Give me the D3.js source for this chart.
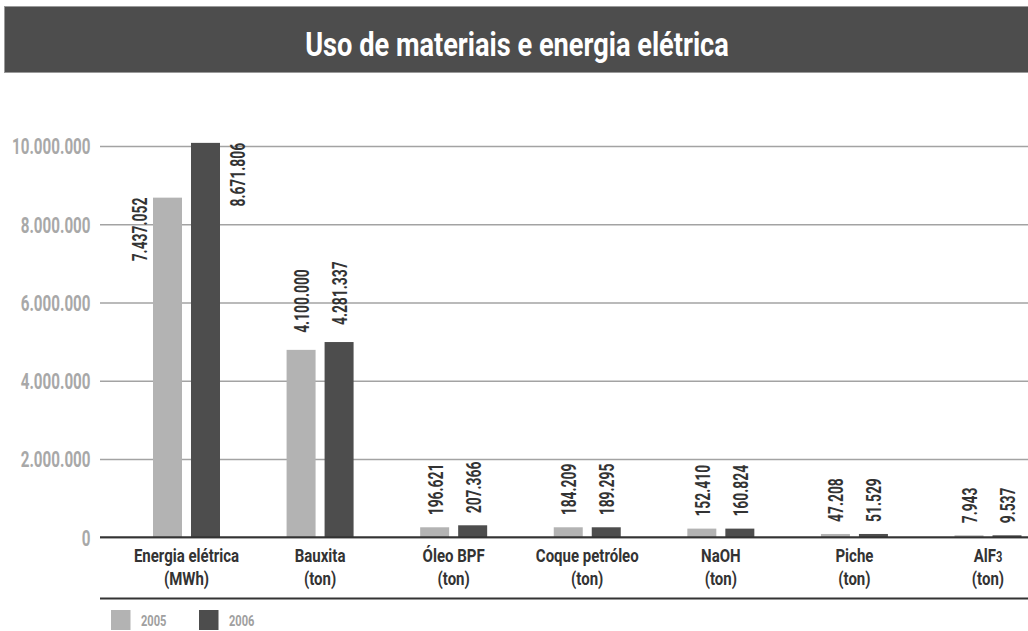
<!DOCTYPE html>
<html><head><meta charset="utf-8">
<script src="https://cdn.jsdelivr.net/npm/d3@7"></script>
<style>body{margin:0;background:#fff;} svg{display:block}</style>
</head><body>
<svg id="c" width="1028" height="631"></svg>
<script>
const title = "Uso de materiais e energia elétrica";
const categories = ["Energia elétrica","Bauxita","Óleo BPF","Coque petróleo","NaOH","Piche","AlF3"];
const units = ["(MWh)","(ton)","(ton)","(ton)","(ton)","(ton)","(ton)"];
const years = ["2005","2006"];
const values2005 = [8680000, 4790000, 256000, 256000, 222000, 85000, 51000];
const values2006 = [10080000, 4990000, 307000, 256000, 222000, 85000, 51000];
const labels2005 = ["7.437.052","4.100.000","196.621","184.209","152.410","47.208","7.943"];
const labels2006 = ["8.671.806","4.281.337","207.366","189.295","160.824","51.529","9.537"];
const yTicks = [0,2000000,4000000,6000000,8000000,10000000];
const yTickLabels = ["0","2.000.000","4.000.000","6.000.000","8.000.000","10.000.000"];
const colors = {"2005":"#b3b3b3","2006":"#4d4d4d"};

const FONT = "Roboto, 'Liberation Sans', sans-serif";
const svg = d3.select("#c");
const W = 1028;
const left = 100;

// Title bar
svg.append("rect").attr("x",4.5).attr("y",6.5).attr("width",W-4).attr("height",66)
  .attr("fill","#4d4d4d").attr("stroke","#9a9a9a").attr("stroke-width",1);
svg.append("g").attr("transform",`translate(517,56) scale(0.8,1)`)
  .append("text").attr("text-anchor","middle").attr("font-family",FONT)
  .attr("font-weight","bold").attr("font-size",34).attr("fill","#fff").text(title);

const y = d3.scaleLinear().domain([0,10000000]).range([537.3,146]);
const x0 = d3.scaleBand().domain(categories).range([119.7,1054.8]).padding(0);
const bw = x0.bandwidth();
const x1 = d3.scaleBand().domain(years).range([bw/2-33.5, bw/2+33.5]).paddingInner(0.237);

// grid + y axis
const KT = 0.69;
const yAxis = d3.axisLeft(y).tickValues(yTicks).tickFormat((d,i)=>yTickLabels[i])
  .tickSize(-(W-left)).tickPadding(0);
const ga = svg.append("g").attr("transform",`translate(${left},0)`).call(yAxis);
ga.select(".domain").remove();
ga.selectAll(".tick line").attr("stroke","#a3a3a3").attr("stroke-width",1.4);
ga.selectAll(".tick text")
  .attr("font-family",FONT).attr("font-weight","bold").attr("font-size",22)
  .attr("fill","#a8a8a8").attr("text-anchor","end")
  .attr("x",-9.5/KT).attr("dy","0.36em")
  .attr("transform",`scale(${KT},1)`);

// bars
const rows = categories.map((c,i)=>({cat:c, vals:[
  {year:"2005", v:values2005[i], label:labels2005[i]},
  {year:"2006", v:values2006[i], label:labels2006[i]}]}));

const gg = svg.append("g").selectAll("g").data(rows).join("g")
  .attr("transform",d=>`translate(${x0(d.cat)},0)`);
gg.selectAll("rect").data(d=>d.vals).join("rect")
  .attr("x",d=>x1(d.year)).attr("width",x1.bandwidth())
  .attr("y",d=>y(d.v)).attr("height",d=>y(0)-y(d.v))
  .attr("fill",d=>colors[d.year]);

// value labels (rotated)
const KV = 0.66;
gg.each(function(row){
  const g = d3.select(this);
  row.vals.forEach(d=>{
    const bx = x1(d.year), top = y(d.v);
    let tx, ty, anchor;
    if (d.v > 8000000) {
      anchor = "end"; ty = top;
      tx = d.year==="2005" ? bx - 5.5 : bx + x1.bandwidth() + 25.5;
    } else {
      anchor = "start"; ty = top - (d.v > 1000000 ? 17 : 12);
      tx = bx + x1.bandwidth()/2 + 8;
    }
    g.append("g").attr("transform",`translate(${tx},${ty}) rotate(-90) scale(${KV},1)`)
      .append("text").attr("text-anchor",anchor).attr("font-family",FONT)
      .attr("font-weight","bold").attr("font-size",21).attr("fill","#333")
      .text(d.label);
  });
});

// baseline
svg.append("line").attr("x1",left).attr("x2",W).attr("y1",y(0)).attr("y2",y(0))
  .attr("stroke","#333").attr("stroke-width",2);

// category labels
const KC = 0.79;
categories.forEach((c,i)=>{
  const cx = x0(c)+bw/2;
  const g = svg.append("g").attr("transform",`translate(${cx},562) scale(${KC},1)`);
  const t = g.append("text").attr("text-anchor","middle").attr("font-family",FONT)
    .attr("font-weight","bold").attr("font-size",19).attr("fill","#333");
  const m = c.match(/^(AlF)(3)$/);
  if (m) { t.append("tspan").text(m[1]); t.append("tspan").attr("font-size",14).text(m[2]); }
  else t.text(c);
  g.append("text").attr("y",23).attr("text-anchor","middle").attr("font-family",FONT)
    .attr("font-weight","bold").attr("font-size",19).attr("fill","#333").text(units[i]);
});

// bottom rule
svg.append("line").attr("x1",left).attr("x2",W).attr("y1",598.5).attr("y2",598.5)
  .attr("stroke","#333").attr("stroke-width",2);

// legend
const leg = svg.append("g").selectAll("g").data(years).join("g")
  .attr("transform",(d,i)=>`translate(${111+i*88},610)`);
leg.append("rect").attr("width",19.5).attr("height",20).attr("fill",d=>colors[d]);
leg.append("g").attr("transform",`translate(30,16) scale(0.74,1)`)
  .append("text").attr("font-family",FONT).attr("font-weight","bold")
  .attr("font-size",15).attr("fill","#a0a0a0").text(d=>d);
</script>
</body></html>
